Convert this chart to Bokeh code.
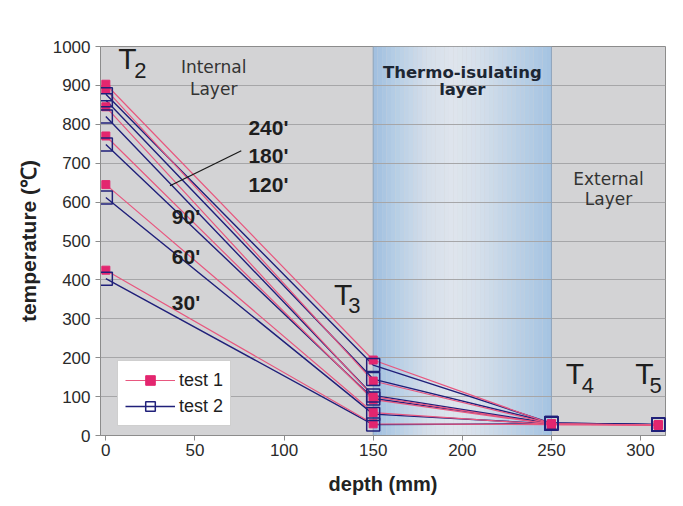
from bokeh.plotting import figure
from bokeh.models import Range1d, Legend, LegendItem, Label, FixedTicker, Span
from bokeh.embed import file_html
from bokeh.resources import INLINE
from bokeh.core.properties import value

# ---- data ----
depth = [0, 150, 250, 310]
times = ["30'", "60'", "90'", "120'", "180'", "240'"]
test1_30 = [425, 30, 28, 27]
test1_60 = [645, 59, 28, 27]
test1_90 = [770, 92, 29, 27]
test1_120 = [845, 100, 29, 27]
test1_180 = [890, 140, 30, 27]
test1_240 = [903, 194, 30, 27]
test2_30 = [403, 28, 30, 28]
test2_60 = [612, 55, 30, 28]
test2_90 = [748, 95, 31, 28]
test2_120 = [820, 103, 31, 28]
test2_180 = [862, 145, 32, 28]
test2_240 = [877, 181, 32, 28]
test1 = [test1_30, test1_60, test1_90, test1_120, test1_180, test1_240]
test2 = [test2_30, test2_60, test2_90, test2_120, test2_180, test2_240]
x_ticks = [0, 50, 100, 150, 200, 250, 300]
y_ticks = [0, 100, 200, 300, 400, 500, 600, 700, 800, 900, 1000]
layer_start, layer_end = 150, 250

# annotation texts / anchor positions (data units)
time_labels = [("240'", 80, 763), ("180'", 80, 691), ("120'", 80, 616),
               ("90'", 37, 534), ("60'", 37, 430), ("30'", 37, 312)]
t_labels = [("T", "2", 7, 928, 16, 918), ("T", "3", 128, 320, 136, 314),
            ("T", "4", 258, 118, 267, 108), ("T", "5", 297, 118, 305, 108)]
leader = ([76, 36], [732, 642])

PINK = "#e3266f"
PINK_LINE = "#e8577f"
NAVY = "#20207a"

W, H = 675, 498
p = figure(width=W, height=H, output_backend="svg", toolbar_location=None,
           x_range=Range1d(-3, 314), y_range=Range1d(0, 1000),
           min_border_left=100, min_border_right=10, min_border_top=46,
           min_border_bottom=63,
           background_fill_color="#d3d3d5", border_fill_color="white",
           outline_line_color="#8c8c8c")

# gradient band (thermo-isolating layer)
stops = [(0.0, (160, 191, 223)), (0.12, (180, 205, 229)), (0.3, (212, 222, 234)),
         (0.45, (223, 229, 237)), (0.6, (212, 223, 235)), (0.8, (188, 209, 230)),
         (1.0, (164, 195, 226))]
def col(t):
    for (a, ca), (b, cb) in zip(stops[:-1], stops[1:]):
        if a <= t <= b:
            f = (t - a) / (b - a)
            c = [int(round(ca[i] + (cb[i] - ca[i]) * f)) for i in range(3)]
            return "#%02x%02x%02x" % tuple(c)
    return "#a8c4e0"
n = 40
w = (layer_end - layer_start) / n
lefts = [layer_start + i * w for i in range(n)]
rights = [l + w for l in lefts]
colors = [col((i + 0.5) / n) for i in range(n)]
p.quad(left=lefts, right=rights, bottom=0, top=1000, fill_color=colors,
       line_color=None, level="image")
for xv in (layer_start, layer_end):
    p.add_layout(Span(location=xv, dimension="height", line_color="#8fa4ba",
                      line_width=1, level="underlay"))

# grid & axes
p.xgrid.grid_line_color = None
p.ygrid.grid_line_color = "#a6a6a8"
p.ygrid.ticker = FixedTicker(ticks=y_ticks)
p.xaxis.ticker = FixedTicker(ticks=x_ticks)
p.yaxis.ticker = FixedTicker(ticks=y_ticks)
for ax in (p.xaxis[0], p.yaxis[0]):
    ax.axis_line_color = "#8c8c8c"
    ax.major_tick_line_color = "#8c8c8c"
    ax.minor_tick_line_color = None
    ax.major_tick_out = 5
    ax.major_tick_in = 0
    ax.major_label_text_font = "Liberation Sans"
    ax.major_label_text_font_size = "17px"
    ax.major_label_text_color = "#2a2a2a"
    ax.axis_label_text_font = "Liberation Sans"
    ax.axis_label_text_font_style = "bold"
    ax.axis_label_text_color = "#222222"
p.xaxis.axis_label_text_font_size = "20px"
p.yaxis.axis_label_text_font_size = "21px"
p.xaxis.axis_label = "depth (mm)"
p.yaxis.axis_label = "temperature (\u2103)"
p.xaxis.major_label_standoff = 3
p.xaxis.axis_label_standoff = 14
p.yaxis.major_label_standoff = 5
p.yaxis.axis_label_standoff = 10

# series
r1_line = r1_mark = r2_line = r2_mark = None
for vals in test2:
    l = p.line(depth, vals, line_color=NAVY, line_width=1.4)
    r2_line = r2_line or l
for vals in test1:
    l = p.line(depth, vals, line_color=PINK_LINE, line_width=1.2)
    r1_line = r1_line or l
for vals in test1:
    m = p.scatter(depth, vals, marker="square", size=8, fill_color=PINK,
                  line_color=PINK)
    r1_mark = r1_mark or m
for vals in test2:
    m = p.scatter(depth, vals, marker="square", size=13, fill_color=None,
                  line_color=NAVY, line_width=1.5)
    r2_mark = r2_mark or m

# leader line
p.line(leader[0], leader[1], line_color="#1a1a1a", line_width=1.3)

# texts
for txt, x, y in time_labels:
    p.add_layout(Label(x=x, y=y, text=txt, text_font="Liberation Sans",
                       text_font_style="bold", text_font_size="21px",
                       text_color="#1e1e1e"))
for t, sub, x, y, sx, sy in t_labels:
    p.add_layout(Label(x=x, y=y, text=t, text_font="Liberation Sans",
                       text_font_size="30px", text_color="#1e1e1e"))
    p.add_layout(Label(x=sx, y=sy, text=sub, text_font="Liberation Sans",
                       text_font_size="22px", text_color="#1e1e1e"))

def center_text(x, y, txt, bold=False, size="17px", color="#333333"):
    p.add_layout(Label(x=x, y=y, text=txt, text_font="DejaVu Sans",
                       text_font_style="bold" if bold else "normal",
                       text_font_size=size, text_color=color, text_align="center"))

center_text(60.5, 922, "Internal")
center_text(60.5, 866, "Layer")
center_text(200, 908, "Thermo-isulating", bold=True, size="16.5px", color="#1c2633")
center_text(200, 864, "layer", bold=True, size="16.5px", color="#1c2633")
center_text(282, 634, "External")
center_text(282, 582, "Layer")

legend = Legend(items=[LegendItem(label="test 1", renderers=[r1_line, r1_mark]),
                       LegendItem(label="test 2", renderers=[r2_line, r2_mark])],
                location=(17, 9), background_fill_color="white",
                background_fill_alpha=1, border_line_color="#a0a0a0",
                glyph_width=50, glyph_height=24, label_text_font="Liberation Sans",
                label_text_font_size="18px", label_text_color="#1e1e1e",
                padding=7, spacing=2, label_standoff=4, margin=0)
p.add_layout(legend)

open("out.html", "w").write(file_html(p, INLINE))
